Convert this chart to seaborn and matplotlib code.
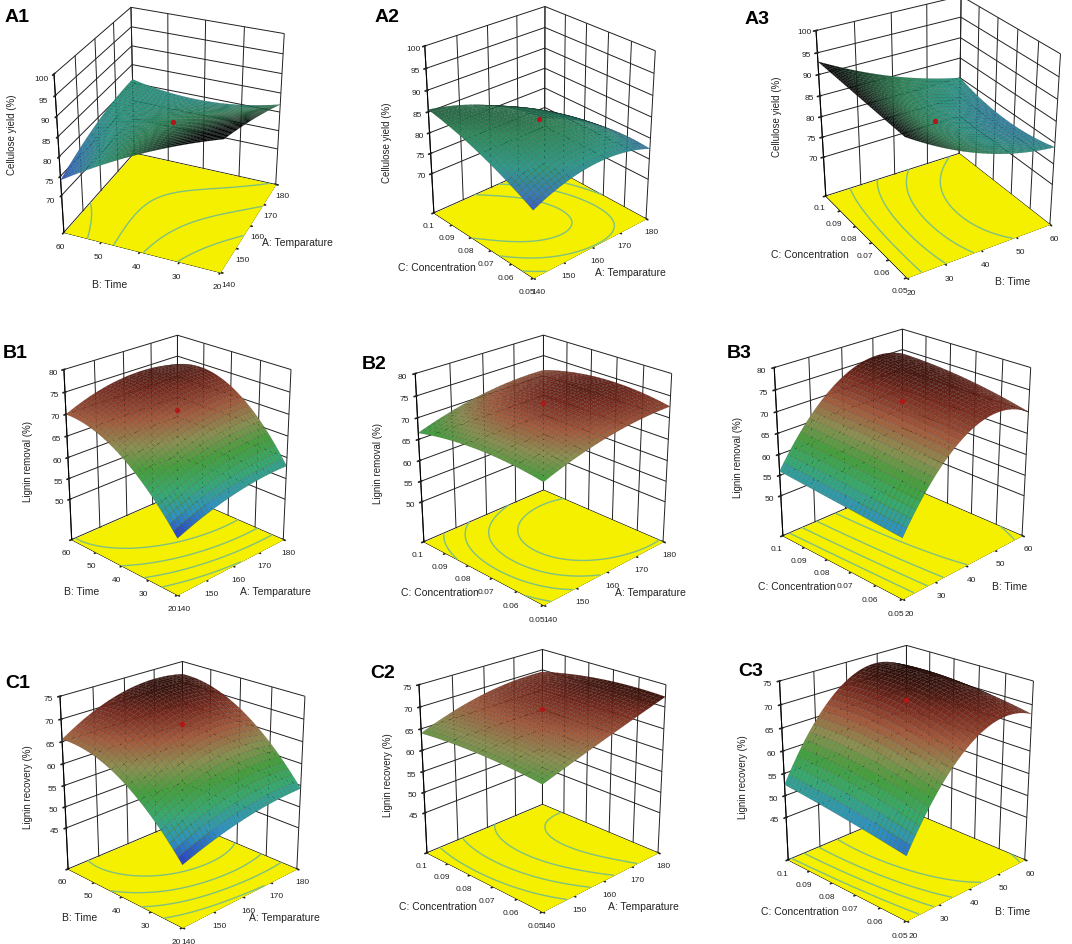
import numpy as np
import matplotlib
matplotlib.use("Agg")
import matplotlib.pyplot as plt
import seaborn as sns
from matplotlib.colors import LinearSegmentedColormap, Normalize

sns.set_theme(style="white")
plt.rcParams["font.family"] = ["Liberation Sans", "DejaVu Sans"]
plt.rcParams["grid.color"] = "#202020"
plt.rcParams["grid.linewidth"] = 0.7

# ---------------- data ----------------
temp_levels = [140, 160, 180]
time_levels = [20, 40, 60]
conc_levels = [0.05, 0.075, 0.1]

temp_ticks = [140, 150, 160, 170, 180]
time_ticks = [20, 30, 40, 50, 60]
conc_ticks = [0.05, 0.06, 0.07, 0.08, 0.09, 0.1]
conc_ticklabels = ["0.05", "0.06", "0.07", "0.08", "0.09", "0.1"]

cellulose_ticks = [70, 75, 80, 85, 90, 95, 100]
removal_ticks = [50, 55, 60, 65, 70, 75, 80]
recovery_ticks = [45, 50, 55, 60, 65, 70, 75]

# response grids: rows = right-axis factor (low, mid, high), cols = left-axis factor (low, mid, high)
cellulose_temp_time = [[93, 85, 74], [88, 83, 79], [82, 79, 81]]
cellulose_temp_conc = [[76, 82, 85.5], [80, 84, 81], [77.5, 77, 72]]
cellulose_time_conc = [[92, 92.5, 93], [83, 82, 85], [79, 77.5, 80]]
removal_temp_time = [[53, 66, 70], [57, 71, 74], [58, 72, 73]]
removal_temp_conc = [[67.5, 68.5, 66.5], [71.5, 73.5, 70.5], [72.6, 74, 71.4]]
removal_time_conc = [[54, 55, 56], [71, 72.5, 73], [70, 73, 74]]
recovery_temp_time = [[49, 62, 65.5], [53, 69, 72], [54.3, 68, 72]]
recovery_temp_conc = [[63.4, 64.5, 64], [68, 69.5, 68.5], [72.3, 72, 69.5]]
recovery_time_conc = [[49, 51, 52.5], [67, 71, 71], [68, 70, 70]]

# ---------------- layout ----------------
W, H = 1072, 944
fig = plt.figure(figsize=(W / 100, H / 100), dpi=100)

cmap_a = LinearSegmentedColormap.from_list(
    "a", [(0.0, "#3440c4"), (0.2, "#3a7ab8"), (0.4, "#2f9a88"), (0.6, "#2f8a5a"),
          (0.8, "#1e4a30"), (1.0, "#060a08")])
cmap_bc = LinearSegmentedColormap.from_list(
    "bc", ["#2a30c8", "#2f92c0", "#36aa70", "#44a03c", "#8c9050", "#a65a3c", "#7a2a1e", "#240a06"])

factor = {
    "A": ("A: Temparature", temp_levels, temp_ticks, [str(t) for t in temp_ticks]),
    "B": ("B: Time", time_levels, time_ticks, [str(t) for t in time_ticks]),
    "C": ("C: Concentration", conc_levels, conc_ticks, conc_ticklabels),
}

panels = [
    # name, grid, right factor, left factor, zlabel, zticks, zlim, cmap, colour range
    ("A1", cellulose_temp_time, "A", "B", "Cellulose yield (%)", cellulose_ticks, (60, 100), cmap_a, (73, 90)),
    ("A2", cellulose_temp_conc, "A", "C", "Cellulose yield (%)", cellulose_ticks, (60, 100), cmap_a, (74, 90)),
    ("A3", cellulose_time_conc, "B", "C", "Cellulose yield (%)", cellulose_ticks, (60, 100), cmap_a, (72, 92)),
    ("B1", removal_temp_time, "A", "B", "Lignin removal (%)", removal_ticks, (40, 80), cmap_bc, (52, 77)),
    ("B2", removal_temp_conc, "A", "C", "Lignin removal (%)", removal_ticks, (40, 80), cmap_bc, (61, 76)),
    ("B3", removal_time_conc, "B", "C", "Lignin removal (%)", removal_ticks, (40, 80), cmap_bc, (50, 77)),
    ("C1", recovery_temp_time, "A", "B", "Lignin recovery (%)", recovery_ticks, (35, 75), cmap_bc, (48, 74)),
    ("C2", recovery_temp_conc, "A", "C", "Lignin recovery (%)", recovery_ticks, (35, 75), cmap_bc, (55, 73)),
    ("C3", recovery_time_conc, "B", "C", "Lignin recovery (%)", recovery_ticks, (35, 75), cmap_bc, (46, 74)),
]

# view / placement per panel: elev, azim, centre(px), scale, z aspect,
# name pos, zlabel pos, left-label pos, right-label pos (px)
views = [
    (30, -157, (169, 138), 1.085, 1.06, (5, 18), (12, 135), (110, 285), (297, 243)),
    (28, -132, (535, 140), 1.01, 1.21, (375, 18), (387, 143), (437, 268), (630, 273)),
    (29, -122, (931, 134), 1.095, 1.13, (745, 20), (777, 117), (810, 255), (1013, 282)),
    (24, -135, (173, 462), 1.0, 1.2, (3, 354), (28, 462), (82, 592), (275, 592)),
    (24, -135, (539, 465), 1.13, 1.05, (362, 364), (378, 463), (440, 593), (650, 593)),
    (24, -135, (898, 459), 1.13, 1.05, (727, 354), (738, 457), (797, 587), (1010, 587)),
    (23, -135, (178, 790), 1.08, 1.12, (5, 684), (28, 787), (80, 918), (284, 918)),
    (23, -135, (538, 776), 1.09, 1.08, (370, 674), (388, 775), (438, 907), (643, 907)),
    (23, -135, (902, 778), 1.118, 1.12, (738, 672), (743, 777), (800, 912), (1013, 912)),
]

S = 330  # axes size in px
BASE_ZOOM = 0.86
BASE_NORM = np.linalg.norm([1, 1, 1.25])
YELLOW = "#f4f000"


def lagrange(t):
    return np.stack([t * (t - 1) / 2, 1 - t ** 2, t * (t + 1) / 2])


for (name, grid, fx, fy, zlabel, zticks, zlim, cmap, crange), \
        (elev, azim, center, scale, zasp, pos_name, pos_z, pos_y, pos_x) in zip(panels, views):
    cx, cy = center
    ax = fig.add_axes([(cx - S / 2) / W, 1 - (cy + S / 2) / H, S / W, S / H],
                      projection="3d", computed_zorder=False)
    xlab, xlev, xt, xtl = factor[fx]
    ylab, ylev, yt, ytl = factor[fy]
    g = np.asarray(grid, dtype=float)

    n = 61
    uu = np.linspace(-1, 1, n)
    Lu = lagrange(uu)
    Zs = np.einsum("ia,ij,jb->ab", Lu, g, Lu)  # Zs[a, b] -> x index a, y index b
    xs = np.linspace(xlev[0], xlev[-1], n)
    ys = np.linspace(ylev[0], ylev[-1], n)
    X, Y = np.meshgrid(xs, ys, indexing="ij")

    # floor with contour projection
    Xf, Yf = np.meshgrid([xlev[0], xlev[-1]], [ylev[0], ylev[-1]], indexing="ij")
    ax.plot_surface(Xf, Yf, np.full_like(Xf, zlim[0], dtype=float), color=YELLOW,
                    shade=False, linewidth=0, antialiased=False, zorder=1)
    levels = np.linspace(Zs.min(), Zs.max(), 6)[1:-1]
    ax.contour(X, Y, Zs, levels=levels, zdir="z", offset=zlim[0],
               colors="#80c080", linewidths=1.0, zorder=2)

    norm = Normalize(*crange, clip=True)
    fc = cmap(norm(Zs))
    ax.plot_surface(X, Y, Zs, facecolors=fc, rcount=60, ccount=60, shade=False,
                    linewidth=0.25, edgecolor=(0, 0, 0, 0.3), antialiased=True, zorder=3)
    ax.scatter([xlev[1]], [ylev[1]], [g[1, 1]], color="#b01818", s=8, depthshade=False, zorder=4)

    ax.set_xlim(xlev[0], xlev[-1])
    ax.set_ylim(ylev[0], ylev[-1])
    ax.set_zlim(*zlim)
    ax.set_xticks(xt)
    ax.set_xticklabels(xtl)
    ax.set_yticks(yt)
    ax.set_yticklabels(ytl)
    ax.set_zticks(zticks)
    ax.set_zticklabels([str(z) for z in zticks])
    ax.tick_params(labelsize=6, pad=-2, colors="#222222")
    for a in (ax.xaxis, ax.yaxis, ax.zaxis):
        a.line.set_color("black")
        a.line.set_linewidth(0.8)
        a.pane.set_edgecolor("black")
    ax.xaxis.set_pane_color((1, 1, 1, 1))
    ax.yaxis.set_pane_color((1, 1, 1, 1))
    ax.zaxis.set_pane_color((1, 1, 1, 1))
    ax.grid(True)
    ax.view_init(elev=elev, azim=azim)
    ax.set_proj_type("persp", focal_length=0.6)
    zoom = BASE_ZOOM * scale * np.linalg.norm([1, 1, zasp]) / BASE_NORM
    ax.set_box_aspect((1, 1, zasp), zoom=zoom)
    ax.patch.set_alpha(0)

    fig.text(pos_name[0] / W, 1 - pos_name[1] / H, name, fontsize=14, fontweight="bold",
             ha="left", va="center", color="black")
    fig.text(pos_z[0] / W, 1 - pos_z[1] / H, zlabel, fontsize=7, rotation=90,
             ha="center", va="center", color="#222222")
    fig.text(pos_y[0] / W, 1 - pos_y[1] / H, ylab, fontsize=7.5, ha="center", va="center", color="#222222")
    fig.text(pos_x[0] / W, 1 - pos_x[1] / H, xlab, fontsize=7.5, ha="center", va="center", color="#222222")

fig.savefig("out.png", dpi=100, facecolor="white")
